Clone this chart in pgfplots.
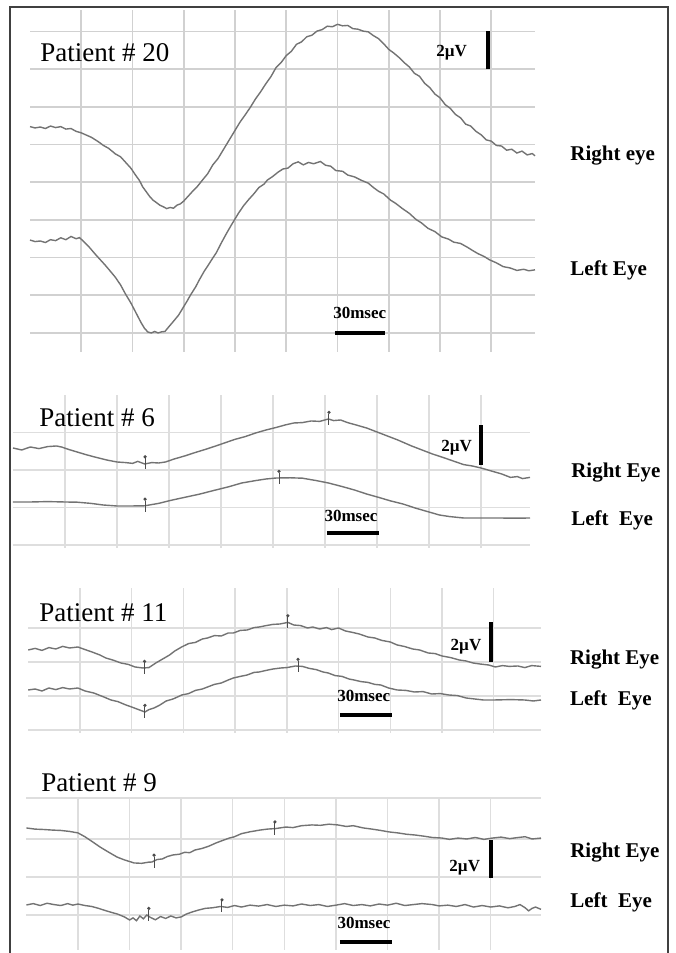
\documentclass[border=0pt]{standalone}
\usepackage{fontspec}
\setmainfont{Liberation Serif}
\usepackage{pgfplots}
\pgfplotsset{compat=1.18}

% small peak marker: dot with a short tick through the trace
\pgfdeclareplotmark{pin}{%
  \pgfpathmoveto{\pgfpoint{0pt}{2.6pt}}\pgfpathlineto{\pgfpoint{0pt}{-3pt}}\pgfusepathqstroke
  \pgfpathcircle{\pgfpoint{0pt}{3.3pt}}{0.9pt}\pgfusepathqfill}

\tikzset{
  pat/.style={anchor=west, inner sep=0pt, font=\fontsize{13.5}{15}\selectfont},
  eye/.style={anchor=west, inner sep=0pt, font=\fontsize{10.5}{12}\selectfont\bfseries},
  sml/.style={inner sep=0pt, font=\fontsize{8.5}{9}\selectfont\bfseries},
}

\pgfplotsset{
  vep/.style={scale only axis, anchor=south west, clip=false,
    axis line style={draw=none}, tick style={draw=none},
    xticklabels={}, yticklabels={}, xtick={30,60,...,270},
    grid=major, major grid style={gray!26, line width=0.7pt}},
  trace/.style={black!55, line width=0.7pt},
  pins/.style={only marks, mark=pin, mark options={black!70, line width=0.5pt}},
  bar/.style={black, line width=2pt},
}

\begin{document}
\begin{tikzpicture}
\useasboundingbox (0,0) rectangle (337.5pt,476.5pt);
\draw[black!75, line width=0.75pt] (5pt,0) -- (5pt,473pt) -- (334pt,473pt) -- (334pt,0);

%% Patient 20
\begin{axis}[vep, at={(15pt,300.5pt)}, width=252.5pt, height=171pt,
  xmin=0, xmax=295.6, ymin=-1.01, ymax=17.14, ytick={0,2,...,16},
  major grid style={gray!36, line width=0.8pt}]
\addplot[trace] coordinates {
(0,10.95) (3,10.88) (6,10.93) (9,10.85) (12,10.98) (15,10.9) (18,10.95) (21,10.82) (24,10.85) (27,10.7)
(30,10.62) (33,10.5) (36,10.38) (40,10.15) (43,9.95) (46,9.8) (50,9.5) (53,9.35) (56,9.05) (59,8.75)
(62,8.35) (64,8.1) (66,7.75) (68,7.5) (70,7.25) (72,7.05) (74,6.92) (76,6.78) (78,6.7) (80,6.6)
(82,6.66) (84,6.62) (86,6.78) (88,6.85) (90,7.0) (93,7.3) (95,7.5) (98,7.78) (101,8.12) (104,8.45)
(107,8.92) (110,9.25) (114,9.85) (117,10.3) (120,10.75) (123,11.2) (126,11.58) (129,11.98) (132,12.42) (135,12.8)
(138,13.22) (141,13.6) (144,14.08) (147,14.35) (150,14.72) (153,14.95) (156,15.32) (159,15.45) (162,15.72) (165,15.8)
(168,16.02) (171,16.1) (174,16.28) (177,16.25) (180,16.38) (183,16.3) (186,16.32) (189,16.15) (192,16.12) (195,16.02)
(198,15.98) (201,15.78) (204,15.62) (207,15.35) (210,15.05) (213,14.85) (216,14.62) (219,14.35) (222,14.12) (225,13.78)
(228,13.62) (231,13.25) (234,13.02) (237,12.68) (240,12.48) (243,12.12) (246,11.92) (249,11.6) (252,11.42) (255,11.08)
(258,10.98) (261,10.7) (264,10.52) (267,10.25) (270,10.18) (273,9.95) (276,9.92) (279,9.7) (282,9.75) (285,9.55)
(288,9.65) (291,9.45) (294,9.52) (295.6,9.4)};
\addplot[trace] coordinates {
(0,4.93) (3,4.85) (6,4.88) (9,4.8) (12,4.95) (15,4.9) (18,5.05) (21,4.95) (24,5.12) (27,5.0)
(29,5.06) (32,4.8) (35,4.52) (38,4.2) (41,3.9) (44,3.6) (47,3.28) (50,2.95) (53,2.55) (56,2.05)
(59,1.6) (61,1.25) (63,0.9) (65,0.55) (67,0.25) (69,0.05) (71,0.0) (73,0.08) (75,0.0) (77,0.06)
(79,0.08) (81,0.3) (84,0.62) (87,0.95) (89,1.25) (92,1.7) (94,2.02) (97,2.45) (99,2.8) (102,3.28)
(104,3.55) (107,3.98) (109,4.25) (112,4.78) (115,5.28) (118,5.75) (122,6.35) (125,6.75) (128,7.08) (131,7.38)
(134,7.72) (137,7.9) (139,8.12) (142,8.3) (145,8.52) (148,8.7) (151,8.75) (154,8.98) (157,9.08) (160,8.92)
(163,9.05) (166,8.98) (170,9.1) (173,8.9) (176,8.85) (179,8.62) (183,8.58) (186,8.38) (190,8.28) (194,8.1)
(198,7.95) (201,7.72) (204,7.52) (207,7.38) (211,7.05) (214,6.88) (218,6.6) (222,6.35) (226,6.02) (229,5.85)
(233,5.55) (237,5.38) (241,5.1) (245,4.98) (248,4.82) (252,4.75) (256,4.55) (259,4.38) (262,4.22) (266,4.05)
(269,3.88) (273,3.72) (277,3.52) (281,3.45) (285,3.32) (289,3.38) (292,3.3) (295.6,3.35)};
\addplot[bar] coordinates {(268,14) (268,16)};
\addplot[bar] coordinates {(178.5,0) (207.8,0)};
\node[pat] at (axis cs:5.9,14.9) {Patient \# 20};
\node[sml, anchor=east] at (axis cs:256,14.9) {2µV};
\node[sml] at (axis cs:193,1.05) {30msec};
\node[eye] at (axis cs:316.1,9.44) {Right eye};
\node[eye] at (axis cs:316.1,3.34) {Left Eye};
\end{axis}

%% Patient 6
\begin{axis}[vep, at={(6.5pt,202.5pt)}, width=258.5pt, height=76.5pt,
  xmin=0, xmax=298.3, ymin=-0.15, ymax=7.5, ytick={0,1.875,3.75,5.625}]
\addplot[trace] coordinates {
(0,4.85) (5,4.75) (10,4.9) (15,4.82) (20,4.92) (25,4.95) (28,4.9) (32,4.78) (37,4.65) (42,4.52)
(48,4.38) (54,4.25) (60,4.15) (65,4.12) (69,4.08) (72,4.18) (76,4.05) (80,4.12) (84,4.1) (88,4.15)
(93,4.3) (99,4.45) (105,4.62) (111,4.78) (117,4.95) (122,5.1) (128,5.28) (134,5.42) (140,5.6) (146,5.75)
(152,5.88) (157,6.0) (162,6.1) (167,6.12) (172,6.2) (177,6.18) (182,6.3) (185,6.22) (189,6.25) (193,6.12)
(198,6.0) (204,5.85) (210,5.65) (216,5.45) (222,5.25) (226,5.1) (230,4.95) (236,4.75) (242,4.55) (248,4.38)
(254,4.2) (260,4.02) (265,3.95) (270,3.85) (276,3.7) (282,3.55) (287,3.38) (291,3.42) (294,3.32) (298.3,3.38)};
\addplot[trace] coordinates {
(0,2.15) (10,2.15) (20,2.17) (30,2.15) (37,2.14) (45,2.08) (52,2.0) (60,1.95) (68,1.95) (76,1.96)
(84,2.08) (92,2.25) (100,2.4) (108,2.55) (116,2.73) (124,2.9) (132,3.1) (140,3.22) (146,3.3) (152,3.35)
(160,3.36) (167,3.34) (175,3.22) (182,3.1) (190,2.92) (197,2.75) (204,2.55) (211,2.38) (218,2.2) (225,2.05)
(232,1.85) (240,1.65) (246,1.5) (252,1.42) (260,1.35) (270,1.35) (280,1.35) (290,1.34) (298.3,1.35)};
\addplot[pins] coordinates {(76.2,4.08) (182.3,6.3) (76.2,1.96) (153.5,3.35)};
\addplot[bar] coordinates {(270,4.0) (270,6.0)};
\addplot[bar] coordinates {(181.1,0.6) (211.2,0.6)};
\node[pat] at (axis cs:15,6.35) {Patient \# 6};
\node[sml, anchor=east] at (axis cs:265,4.85) {2µV};
\node[sml] at (axis cs:195,1.45) {30msec};
\node[eye] at (axis cs:321.9,3.6) {Right Eye};
\node[eye] at (axis cs:321.9,1.25) {Left\ \ Eye};
\end{axis}

%% Patient 11
\begin{axis}[vep, at={(14.1pt,110pt)}, width=256.4pt, height=72.5pt,
  xmin=0, xmax=297.4, ymin=-0.15, ymax=7.1, ytick={0,1.7,3.4,5.1}]
\addplot[trace] coordinates {
(0,4.0) (4,4.08) (8,3.98) (12,4.12) (16,4.05) (20,4.18) (24,4.1) (28.8,4.15) (33,4.02) (37,3.9)
(41.6,3.75) (45,3.6) (49,3.5) (53.8,3.35) (58,3.28) (62,3.15) (66.5,3.1) (70,3.12) (74,3.35) (78,3.55)
(82,3.75) (85,3.95) (89,4.15) (93,4.32) (97,4.38) (101,4.55) (104,4.6) (108,4.72) (112,4.7) (116,4.85)
(119,4.85) (123,4.98) (127,5.0) (131,5.12) (134,5.15) (138,5.22) (142,5.28) (146,5.3) (150.6,5.38) (154,5.25)
(158,5.22) (162,5.1) (165,5.15) (169,5.05) (173,5.12) (176,5.02) (180,5.1) (184,4.95) (188,4.88) (192,4.8)
(197,4.65) (201,4.6) (205,4.48) (210,4.4) (214,4.25) (218,4.18) (223,4.05) (227,4.0) (232,3.85) (236,3.82)
(240,3.7) (245,3.62) (250,3.5) (254,3.45) (258,3.35) (262,3.3) (267,3.25) (271,3.15) (275,3.22) (279,3.18)
(284,3.2) (288,3.12) (292,3.22) (297.4,3.18)};
\addplot[trace] coordinates {
(0,2.0) (4,2.05) (8,1.95) (12,2.1) (16,2.02) (20,2.12) (24,2.05) (28.8,2.1) (33,1.95) (38,1.85)
(43.9,1.65) (48,1.5) (52,1.42) (56.7,1.25) (60,1.15) (64,1.02) (67.7,0.9) (70,1.02) (73,1.1) (76.4,1.25)
(80,1.45) (84,1.55) (89.1,1.75) (93,1.82) (97,1.98) (101,2.05) (104,2.15) (108,2.28) (112,2.35) (116,2.5)
(119,2.6) (123,2.68) (127,2.75) (131,2.88) (134,2.9) (138,2.98) (142,3.05) (146.5,3.1) (150,3.12) (155,3.2)
(159,3.18) (163,3.08) (167,3.02) (171,2.9) (174,2.85) (178,2.72) (182,2.68) (186,2.55) (189,2.5) (193,2.42)
(197,2.38) (201,2.28) (204.5,2.25) (209,2.1) (214,2.0) (219,1.98) (224,1.9) (229,1.92) (234,1.8) (239,1.82)
(244,1.75) (249,1.72) (254,1.6) (259,1.55) (264,1.5) (270,1.5) (280,1.52) (288,1.5) (293,1.45) (297.4,1.5)};
\addplot[pins] coordinates {(67.5,3.1) (150.6,5.38) (67.7,0.9) (156.5,3.2)};
\addplot[bar] coordinates {(268.3,3.4) (268.3,5.4)};
\addplot[bar] coordinates {(180.7,0.75) (210.9,0.75)};
\node[pat] at (axis cs:6.2,5.85) {Patient \# 11};
\node[sml, anchor=east] at (axis cs:263,4.15) {2µV};
\node[sml] at (axis cs:194.6,1.7) {30msec};
\node[eye] at (axis cs:314,3.5) {Right Eye};
\node[eye] at (axis cs:314,1.5) {Left\ \ Eye};
\end{axis}

%% Patient 9
\begin{axis}[vep, at={(13.2pt,1.5pt)}, width=257.3pt, height=76.5pt,
  xmin=0, xmax=299.2, ymin=-1.84, ymax=6.21, ytick={0,2,4,6.15}]
\addplot[trace] coordinates {
(0,4.58) (5,4.52) (10,4.5) (15,4.47) (20,4.45) (25,4.4) (30,4.32) (34,4.12) (38,3.88) (42.8,3.58)
(47,3.35) (52.7,3.05) (57,2.9) (62.6,2.74) (67,2.72) (71,2.78) (73,2.79) (76,2.92) (79,2.95) (82,3.08)
(85.2,3.16) (89,3.2) (92,3.3) (95,3.28) (98,3.42) (102,3.5) (106,3.62) (110.2,3.79) (114,3.92) (118,4.05)
(120.7,4.11) (125,4.28) (130,4.38) (135.8,4.47) (140,4.52) (145,4.55) (150.9,4.63) (155,4.6) (160,4.7) (166,4.74)
(171,4.72) (176,4.78) (181,4.74) (186,4.66) (190,4.7) (196,4.58) (201,4.52) (206,4.45) (211,4.37) (216,4.32)
(221,4.25) (226,4.21) (231,4.15) (236,4.08) (241.6,4.05) (246,3.98) (251,4.05) (256,4.0) (261,4.08) (266,3.98)
(271,4.05) (276,4.1) (281,4.02) (286,4.08) (290,4.12) (294,4.0) (299.2,4.05)};
\addplot[trace] coordinates {
(0,0.53) (4,0.6) (8,0.5) (12,0.62) (16,0.55) (20,0.5) (24,0.6) (27,0.52) (30,0.58) (34,0.5)
(38,0.45) (42,0.35) (45,0.26) (49,0.15) (53,0.05) (57,-0.1) (60,-0.26) (62,-0.15) (64,-0.3) (66,-0.05)
(68,-0.2) (70,0.0) (72,-0.12) (75,-0.25) (78,-0.08) (81,-0.18) (84,-0.05) (87,-0.15) (90,-0.1) (93,0.05)
(96,0.15) (100,0.26) (104,0.35) (108,0.38) (113,0.45) (117,0.4) (121,0.5) (125,0.42) (130,0.52) (135,0.47)
(140,0.55) (145,0.45) (150,0.52) (155,0.48) (160,0.58) (165,0.5) (170,0.55) (175,0.45) (180,0.52) (185,0.6)
(190,0.5) (195,0.55) (200,0.48) (205,0.58) (210,0.52) (215,0.62) (220,0.5) (225,0.55) (230,0.6) (236,0.55)
(240,0.48) (245,0.52) (250,0.45) (255,0.55) (260,0.42) (265,0.5) (270,0.42) (275,0.48) (280,0.38) (284,0.45)
(287,0.55) (290,0.38) (292,0.22) (294,0.35) (296,0.42) (299.2,0.3)};
\addplot[pins] coordinates {(74.2,2.8) (144.5,4.55) (71.2,0.0) (113.7,0.45)};
\addplot[bar] coordinates {(270.1,1.95) (270.1,3.95)};
\addplot[bar] coordinates {(182.3,-1.42) (212.5,-1.42)};
\node[pat] at (axis cs:8.5,6.95) {Patient \# 9};
\node[sml, anchor=east] at (axis cs:264,2.5) {2µV};
\node[sml] at (axis cs:196.3,-0.42) {30msec};
\node[eye] at (axis cs:316,3.3) {Right Eye};
\node[eye] at (axis cs:316,0.68) {Left\ \ Eye};
\end{axis}
\end{tikzpicture}
\end{document}
